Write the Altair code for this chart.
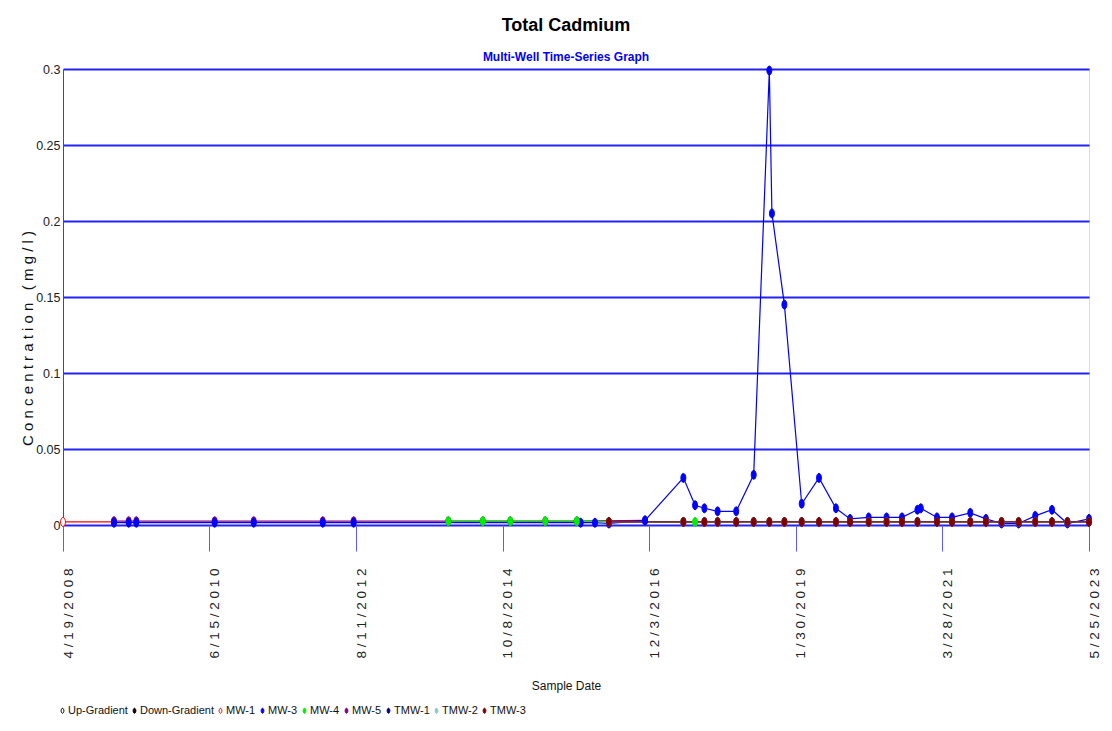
import altair as alt
import pandas as pd

# ---- series (sample date, total cadmium mg/l) ----
mw1_dates = ["2008-04-19", "2009-01-18"]
mw1_vals = [0.002, 0.002]

mw3_dates = ["2009-01-18", "2009-04-07", "2009-05-18", "2010-07-13", "2011-02-08",
             "2012-02-14", "2012-07-29", "2015-12-01", "2016-02-16", "2016-05-01",
             "2016-11-11", "2017-06-05", "2017-08-07", "2017-09-26", "2017-12-06",
             "2018-03-16", "2018-06-18", "2018-09-10", "2018-09-24", "2018-11-30",
             "2019-03-03", "2019-06-04", "2019-09-03", "2019-11-18", "2020-02-26",
             "2020-06-01", "2020-08-23", "2020-11-14", "2020-12-02", "2021-02-27",
             "2021-05-19", "2021-08-25", "2021-11-17", "2022-02-09", "2022-05-12",
             "2022-08-09", "2022-11-07", "2023-01-29", "2023-05-25"]
mw3_vals = [0.0015, 0.0015, 0.0015, 0.0015, 0.0015,
            0.0015, 0.0015, 0.0015, 0.0015, 0.001,
            0.003, 0.031, 0.013, 0.011, 0.009,
            0.009, 0.033, 0.299, 0.205, 0.145,
            0.014, 0.031, 0.011, 0.004, 0.005,
            0.005, 0.005, 0.010, 0.011, 0.005,
            0.005, 0.008, 0.004, 0.001, 0.001,
            0.006, 0.010, 0.001, 0.004]

mw4_dates = ["2013-12-20", "2014-06-23", "2014-11-18", "2015-05-25", "2015-11-10",
             "2016-05-01", "2017-08-07"]
mw4_vals = [0.0025, 0.0025, 0.0025, 0.0025, 0.0025, 0.002, 0.002]

mw5_dates = ["2009-01-18", "2009-04-07", "2009-05-18", "2010-07-13", "2011-02-08",
             "2012-02-14", "2012-07-29", "2013-12-20", "2014-06-23", "2014-11-18",
             "2015-05-25", "2015-11-10", "2016-11-11"]
mw5_vals = [0.0025, 0.0025, 0.0025, 0.0025, 0.0025,
            0.0025, 0.0025, 0.0025, 0.0025, 0.0025,
            0.0025, 0.0025, 0.003]

tmw_dates = ["2016-05-01", "2017-06-05", "2017-09-26", "2017-12-06", "2018-03-16",
             "2018-06-18", "2018-09-10", "2018-11-30", "2019-03-03", "2019-06-04",
             "2019-09-03", "2019-11-18", "2020-02-26", "2020-06-01", "2020-08-23",
             "2020-11-14", "2021-02-27", "2021-05-19", "2021-08-25", "2021-11-17",
             "2022-02-09", "2022-05-12", "2022-08-09", "2022-11-07", "2023-01-29",
             "2023-05-25"]
tmw1_vals = [0.002, 0.002, 0.002, 0.002, 0.002, 0.002, 0.002, 0.002, 0.002, 0.002,
             0.002, 0.002, 0.002, 0.002, 0.002, 0.002, 0.002, 0.002, 0.002, 0.002,
             0.002, 0.002, 0.002, 0.002, 0.002, 0.002]
tmw2_vals = [0.002, 0.002, 0.002, 0.002, 0.002, 0.002, 0.002, 0.002, 0.002, 0.002,
             0.002, 0.002, 0.002, 0.002, 0.002, 0.002, 0.002, 0.002, 0.002, 0.002,
             0.002, 0.002, 0.002, 0.002, 0.002, 0.002]
tmw3_vals = [0.002, 0.002, 0.002, 0.002, 0.002, 0.002, 0.002, 0.002, 0.002, 0.002,
             0.002, 0.002, 0.002, 0.002, 0.002, 0.002, 0.002, 0.002, 0.002, 0.002,
             0.002, 0.002, 0.002, 0.002, 0.002, 0.002]

wells = ["MW-1", "MW-3", "MW-4", "MW-5", "TMW-1", "TMW-2", "TMW-3"]
well_colors = ["#FF0000", "#0000FF", "#00EE00", "#800080", "#000080", "#8FC8C0", "#800000"]

legend_items = ["Up-Gradient", "Down-Gradient"] + wells
stroke_colors = ["#000000", "#000000"] + well_colors
fill_colors = ["#FFFFFF", "#000000", "#FFFFFF", "#0000FF", "#00EE00",
               "#800080", "#000080", "#8FC8C0", "#800000"]

axis_dates = [(2008, 4, 19), (2010, 6, 15), (2012, 8, 11), (2014, 10, 8),
              (2016, 12, 3), (2019, 1, 30), (2021, 3, 28), (2023, 5, 25)]
axis_keys = ["4/19/2008", "6/15/2010", "8/11/2012", "10/8/2014",
             "12/3/2016", "1/30/2019", "3/28/2021", "5/25/2023"]
axis_labels = ["4 / 1 9 / 2 0 0 8", "6 / 1 5 / 2 0 1 0", "8 / 1 1 / 2 0 1 2",
               "1 0 / 8 / 2 0 1 4", "1 2 / 3 / 2 0 1 6", "1 / 3 0 / 2 0 1 9",
               "3 / 2 8 / 2 0 2 1", "5 / 2 5 / 2 0 2 3"]
y_ticks = [0, 0.05, 0.1, 0.15, 0.2, 0.25, 0.3]

# drawing order: later series paint over earlier ones
series = [
    ("MW-1", mw1_dates, mw1_vals),
    ("MW-5", mw5_dates, mw5_vals),
    ("MW-3", mw3_dates, mw3_vals),
    ("MW-4", mw4_dates, mw4_vals),
    ("TMW-1", tmw_dates, tmw1_vals),
    ("TMW-2", tmw_dates, tmw2_vals),
    ("TMW-3", tmw_dates, tmw3_vals),
]
rows = []
for name, dates, vals in series:
    for d, v in zip(dates, vals):
        rows.append({"well": name, "date": d, "value": v})
df = pd.DataFrame(rows)

FONT = "Liberation Sans, Arial, sans-serif"
ELLIPSE = "M0,-1A0.55,1,0,1,1,0,1A0.55,1,0,1,1,0,-1Z"
GRID_BLUE = "#2222ff"


def dt(y, m, d):
    return alt.DateTime(year=y, month=m, date=d, utc=True)


def js_list(items):
    return "[" + ",".join("'" + s + "'" for s in items) + "]"


label_expr = "{}[indexof({}, utcFormat(datum.value, '%-m/%-d/%Y'))]".format(
    js_list(axis_labels), js_list(axis_keys))

x_enc = alt.X(
    "date:T",
    title="Sample Date",
    scale=alt.Scale(domain=[dt(2008, 4, 19), dt(2023, 5, 25)]),
    axis=alt.Axis(
        values=[dt(*a) for a in axis_dates],
        labelExpr=label_expr,
        labelAngle=270,
        labelAlign="right",
        labelBaseline="middle",
        labelOffset=5,
        labelPadding=17,
        labelFont=FONT,
        labelFontSize=13.5,
        labelColor="#222222",
        labelOverlap=False,
        labelFlush=False,
        tickSize=26,
        tickColor="#5a5aff",
        tickWidth=1,
        domain=False,
        grid=False,
        titleFont=FONT,
        titleFontSize=12,
        titleFontWeight="normal",
        titleColor="#111111",
        titleX=503,
        titleY=164,
        titleAlign="center",
        titleBaseline="alphabetic",
    ),
)

y_enc = alt.Y(
    "value:Q",
    title="C o n c e n t r a t i o n \u00a0\u00a0( m g / l )",
    scale=alt.Scale(domain=[0, 0.3], nice=False),
    axis=alt.Axis(
        values=y_ticks,
        format="~g",
        labelFont=FONT,
        labelFontSize=12.5,
        labelColor="#222222",
        labelPadding=3,
        ticks=False,
        domain=True,
        domainColor="#3a3aff",
        domainWidth=1,
        grid=True,
        gridColor=GRID_BLUE,
        gridWidth=1.8,
        titleFont=FONT,
        titleFontSize=15,
        titleFontWeight="normal",
        titleColor="#111111",
        titleAngle=270,
        titleX=-31,
        titleY=269,
        titleAlign="center",
        titleBaseline="alphabetic",
    ),
)

legend = alt.Legend(
    orient="none",
    legendX=-6,
    legendY=636,
    direction="horizontal",
    symbolType=ELLIPSE,
    symbolSize=25,
    symbolStrokeWidth=1,
    labelFont=FONT,
    labelFontSize=11,
    labelColor="#111111",
    labelOffset=0,
    columnPadding=1,
    padding=0,
)

base = alt.Chart(df)

lines = base.mark_line(strokeWidth=1.2).encode(
    x=x_enc,
    y=y_enc,
    color=alt.Color("well:N", scale=alt.Scale(domain=wells, range=well_colors), legend=None),
    order=alt.Order("date:T"),
)

points = base.mark_point(shape=ELLIPSE, size=81, opacity=1, strokeWidth=1).encode(
    x="date:T",
    y="value:Q",
    stroke=alt.Stroke("well:N", title="", scale=alt.Scale(domain=legend_items, range=stroke_colors), legend=legend),
    fill=alt.Fill("well:N", title="", scale=alt.Scale(domain=legend_items, range=fill_colors), legend=legend),
)

chart = (
    alt.layer(lines, points)
    .properties(
        width=1026,
        height=456,
        autosize=alt.AutoSizeParams(type="none"),
        padding={"left": 63, "top": 69, "right": 23, "bottom": 206},
        title=alt.Title(
            "Total Cadmium",
            subtitle="Multi-Well Time-Series Graph",
            font=FONT,
            fontSize=18,
            fontWeight="bold",
            color="#000000",
            subtitleFont=FONT,
            subtitleFontSize=12,
            subtitleFontWeight="bold",
            subtitleColor="#0000FF",
            anchor="middle",
            dx=-10,
            offset=0,
            subtitlePadding=17,
        ),
    )
    .configure_view(stroke="#3a3aff", strokeWidth=1)
    .configure(background="white")
)

chart.save("out.html", embed_options={"renderer": "svg", "actions": False})
